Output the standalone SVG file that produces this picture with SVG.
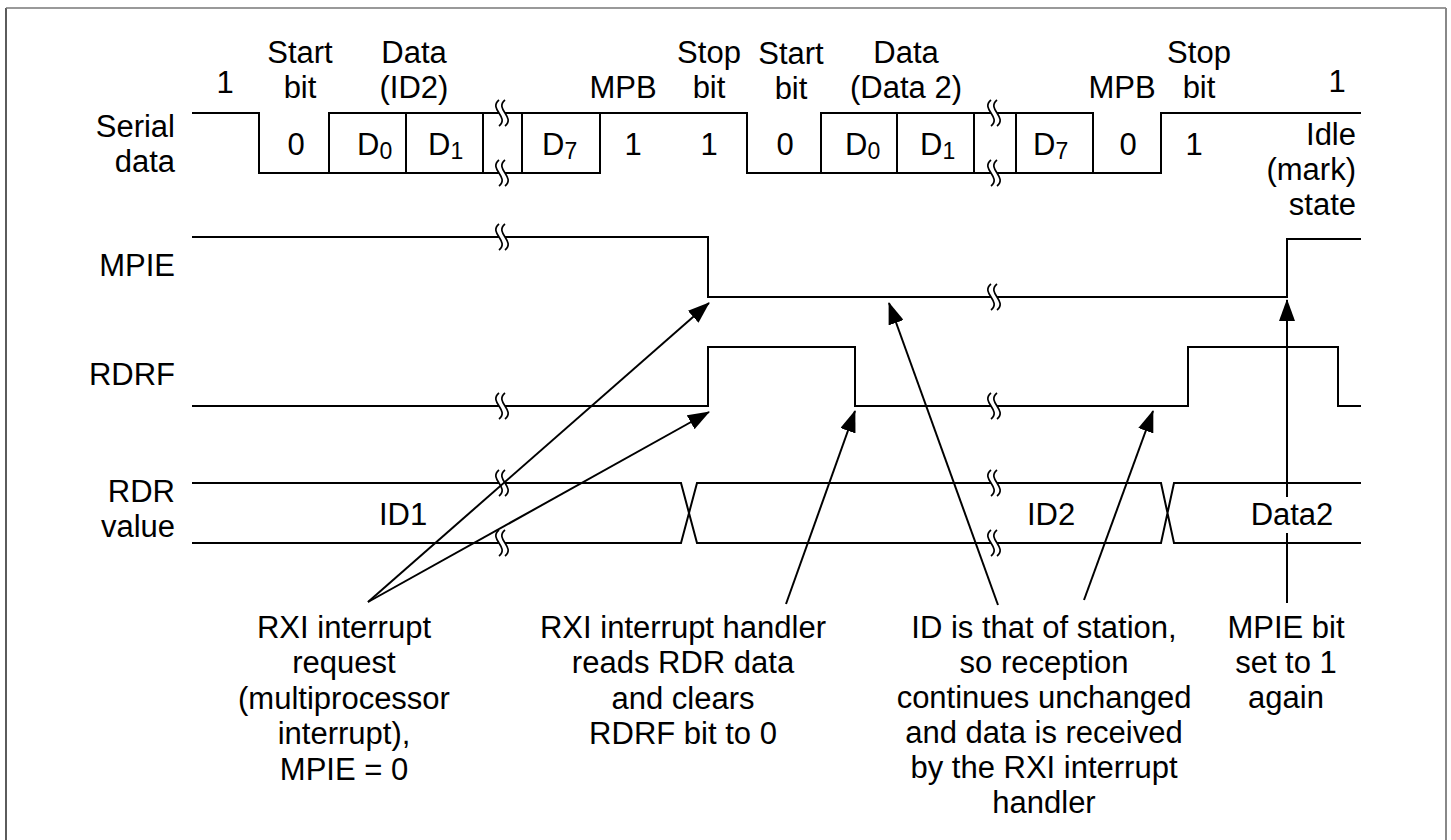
<svg xmlns="http://www.w3.org/2000/svg" xmlns:xlink="http://www.w3.org/1999/xlink" width="1451" height="840" viewBox="0 0 1451 840">
<style>
  text { font-family: "Liberation Sans", Arial, sans-serif; font-size: 31px; fill: #000; }
  .c { text-anchor: middle; }
  .r { text-anchor: end; }
  .wave { fill: none; stroke: #000; stroke-width: 2; }
  .arrow { fill: none; stroke: #000; stroke-width: 2; marker-end: url(#ah); }
  .sub { font-size: 23px; }
</style>
<defs>
  <marker id="ah" markerUnits="userSpaceOnUse" markerWidth="22" markerHeight="16" refX="21" refY="8" orient="auto">
    <path d="M0,0 L22,8 L0,16 Z" fill="#000"/>
  </marker>
  <g id="brk">
    <path d="M-2,-13 C-13,-4 9,4 -2,13 L4,13 C15,4 -7,-4 4,-13 Z" fill="#fff" stroke="none"/>
    <path d="M-2,-13 C-13,-4 9,4 -2,13 M4,-13 C-7,-4 15,4 4,13" fill="none" stroke="#000" stroke-width="1.7"/>
  </g>
</defs>
<rect x="0" y="0" width="1451" height="840" fill="#fff"/>
<g id="border" fill="none" stroke-width="1.6">
  <path d="M6,840 V8" stroke="#333"/>
  <path d="M6,8 H1446" stroke="#777"/>
  <path d="M1446,8 V840" stroke="#888" stroke-width="2"/>
</g>

<g id="serial-data">
  <text class="r" x="175" y="137">Serial</text>
  <text class="r" x="175" y="172">data</text>
  <path class="wave" d="M192,113 H259 V173 H600 V113 H747 V173 H1161 V113 H1361 M329,173 V113 H600 M406,113 V173 M483,113 V173 M522,113 V173 M821,173 V113 H1093 V173 M897,113 V173 M974,113 V173 M1016,113 V173"/>
  <use xlink:href="#brk" x="501" y="113"/>
  <use xlink:href="#brk" x="501" y="173"/>
  <use xlink:href="#brk" x="993" y="113"/>
  <use xlink:href="#brk" x="993" y="173"/>
  <text class="c" x="225" y="93">1</text>
  <text class="c" x="300" y="63">Start</text>
  <text class="c" x="300" y="98">bit</text>
  <text class="c" x="414" y="63">Data</text>
  <text class="c" x="414" y="98">(ID2)</text>
  <text class="c" x="623" y="98">MPB</text>
  <text class="c" x="709" y="63">Stop</text>
  <text class="c" x="709" y="98">bit</text>
  <text class="c" x="791" y="64">Start</text>
  <text class="c" x="791" y="99">bit</text>
  <text class="c" x="906" y="63">Data</text>
  <text class="c" x="906" y="98">(Data 2)</text>
  <text class="c" x="1122" y="98">MPB</text>
  <text class="c" x="1199" y="63">Stop</text>
  <text class="c" x="1199" y="98">bit</text>
  <text class="c" x="1337" y="92">1</text>
  <text class="r" x="1356" y="145">Idle</text>
  <text class="r" x="1356" y="180">(mark)</text>
  <text class="r" x="1356" y="215">state</text>
  <text class="c" x="296" y="155">0</text>
  <text x="357" y="155">D<tspan class="sub" dy="4">0</tspan></text>
  <text x="428" y="155">D<tspan class="sub" dy="4">1</tspan></text>
  <text x="542" y="155">D<tspan class="sub" dy="4">7</tspan></text>
  <text class="c" x="633" y="155">1</text>
  <text class="c" x="709" y="155">1</text>
  <text class="c" x="785" y="155">0</text>
  <text x="845" y="155">D<tspan class="sub" dy="4">0</tspan></text>
  <text x="920" y="155">D<tspan class="sub" dy="4">1</tspan></text>
  <text x="1033" y="155">D<tspan class="sub" dy="4">7</tspan></text>
  <text class="c" x="1128" y="155">0</text>
  <text class="c" x="1194" y="155">1</text>
</g>

<g id="mpie">
  <text class="r" x="175" y="276">MPIE</text>
  <path class="wave" d="M192,237 H708 V297 H1287 V239 H1361"/>
  <use xlink:href="#brk" x="501" y="237"/>
  <use xlink:href="#brk" x="993" y="297"/>
</g>

<g id="rdrf">
  <text class="r" x="175" y="385">RDRF</text>
  <path class="wave" d="M192,406 H708 V347 H855 V406 H1188 V347 H1338 V406 H1361"/>
  <use xlink:href="#brk" x="501" y="406"/>
  <use xlink:href="#brk" x="993" y="406"/>
</g>

<g id="rdr">
  <text class="r" x="175" y="502">RDR</text>
  <text class="r" x="175" y="537">value</text>
  <path class="wave" d="M192,483 H681 L697,543 H1161 L1174,483 H1361 M192,543 H681 L697,483 H1161 L1174,543 H1361"/>
  <use xlink:href="#brk" x="501" y="483"/>
  <use xlink:href="#brk" x="501" y="543"/>
  <use xlink:href="#brk" x="993" y="483"/>
  <use xlink:href="#brk" x="993" y="543"/>
  <text class="c" x="403" y="525">ID1</text>
  <text class="c" x="1051" y="525">ID2</text>
</g>

<g id="connectors">
  <path class="arrow" d="M368,602 L709,303"/>
  <path class="arrow" d="M368,602 L709,412"/>
  <path class="arrow" d="M786,604 L855,411"/>
  <path class="arrow" d="M998,605 L889,303"/>
  <path class="arrow" d="M1084,600 L1153,411"/>
  <path class="arrow" d="M1287,603 L1287,300"/>
</g>

<g id="rdr-data2">
  <rect x="1250" y="497" width="86" height="36" fill="#fff"/>
  <text class="c" x="1292" y="525">Data2</text>
</g>

<g id="note-rxi-request">
  <text class="c" x="344" y="638">RXI interrupt</text>
  <text class="c" x="344" y="673">request</text>
  <text class="c" x="344" y="708.5">(multiprocessor</text>
  <text class="c" x="344" y="744">interrupt),</text>
  <text class="c" x="344" y="779.5">MPIE = 0</text>
</g>

<g id="note-rxi-handler">
  <text class="c" x="683" y="638">RXI interrupt handler</text>
  <text class="c" x="683" y="673">reads RDR data</text>
  <text class="c" x="683" y="708.5">and clears</text>
  <text class="c" x="683" y="744">RDRF bit to 0</text>
</g>

<g id="note-id-station">
  <text class="c" x="1044" y="638">ID is that of station,</text>
  <text class="c" x="1044" y="673">so reception</text>
  <text class="c" x="1044" y="708">continues unchanged</text>
  <text class="c" x="1044" y="743">and data is received</text>
  <text class="c" x="1044" y="778">by the RXI interrupt</text>
  <text class="c" x="1044" y="813">handler</text>
</g>

<g id="note-mpie-set">
  <text class="c" x="1286" y="638">MPIE bit</text>
  <text class="c" x="1286" y="673">set to 1</text>
  <text class="c" x="1286" y="708">again</text>
</g>
</svg>
